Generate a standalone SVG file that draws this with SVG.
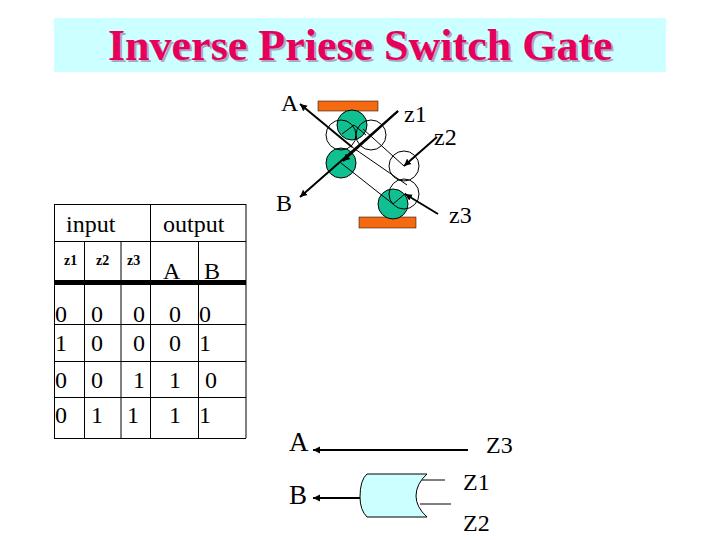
<svg xmlns="http://www.w3.org/2000/svg" width="720" height="540" viewBox="0 0 720 540">
<style>
text{font-family:"Liberation Serif","Times New Roman",serif;fill:#000}
.t{font-size:24px}
.b{font-size:27px}
.h{font-size:24px}
.s{font-size:14px;font-weight:bold}
.c{font-size:24px}
.ti{font-size:44px;font-weight:bold}
.thin{stroke:#000;stroke-width:1;fill:none}
.med{stroke:#000;stroke-width:2;fill:none}
.wc{fill:none;stroke:#000;stroke-width:1}
.gc{fill:#10c090;stroke:#000;stroke-width:1}
.or{fill:#f56a10;stroke:#000;stroke-width:.5}
</style>
<defs>
<marker id="a" markerUnits="userSpaceOnUse" markerWidth="9" markerHeight="8" refX="7" refY="4" orient="auto"><path d="M0 .5L7 4L0 7.500Z" fill="#000"/></marker>
</defs>
<rect width="720" height="540" fill="#fff"/>
<g id="title">
<rect x="54" y="18" width="612" height="54" fill="#ccffff"/>
<text class="ti" x="110" y="62" style="fill:#a8a8c0">Inverse Priese Switch Gate</text>
<text class="ti" x="108" y="60" style="fill:#e6005c">Inverse Priese Switch Gate</text>
</g>
<g id="table">
<path class="thin" d="M54 204.500H246M54 241.500H246M54 324.500H246M54 361.500H246M54 397.500H246M54 438.500H246M54.500 204V438M150.500 204V438M246 204V438M84.500 241V438M121 241V438M198.500 241V438"/>
<path stroke="#000" stroke-width="5" d="M54 282.500H246"/>
<text class="h" x="66" y="232">input</text>
<text class="h" x="163" y="232">output</text>
<text class="s" x="64" y="265">z1</text>
<text class="s" x="96" y="265">z2</text>
<text class="s" x="127" y="265">z3</text>
<text class="h" x="163" y="279">A</text>
<text class="h" x="204" y="279">B</text>
<g>
<text class="c" x="55" y="322">0</text><text class="c" x="91" y="322">0</text><text class="c" x="133" y="322">0</text><text class="c" x="169" y="322">0</text><text class="c" x="199" y="322">0</text>
<text class="c" x="55" y="351">1</text><text class="c" x="91" y="351">0</text><text class="c" x="133" y="351">0</text><text class="c" x="169" y="351">0</text><text class="c" x="199" y="351">1</text>
<text class="c" x="55" y="388">0</text><text class="c" x="91" y="388">0</text><text class="c" x="133" y="388">1</text><text class="c" x="169" y="388">1</text><text class="c" x="205" y="388">0</text>
<text class="c" x="55" y="423">0</text><text class="c" x="91" y="423">1</text><text class="c" x="127" y="423">1</text><text class="c" x="169" y="423">1</text><text class="c" x="199" y="423">1</text>
</g>
</g>
<g id="switch">
<rect class="or" x="318" y="101" width="60" height="10"/>
<rect class="or" x="359" y="217" width="57" height="11"/>
<circle class="gc" cx="352" cy="125" r="15"/>
<circle class="gc" cx="341" cy="163" r="15"/>
<circle class="gc" cx="393" cy="204" r="15"/>
<circle class="wc" cx="341" cy="135" r="15"/>
<circle class="wc" cx="371" cy="135" r="15"/>
<circle class="wc" cx="404" cy="166" r="15"/>
<circle class="wc" cx="404" cy="194" r="15"/>
</g>
<g id="connectors">
<path class="thin" d="M352 147L407 185M363 129L404 166M341 163L393 204M342 134L354 125L366 135M393 204L406 193"/>
<path class="med" marker-end="url(#a)" d="M352 147L300 104"/>
<path class="med" marker-end="url(#a)" d="M398 111L300 197"/>
<path class="med" marker-end="url(#a)" d="M398 111L343 161"/>
<path class="med" marker-end="url(#a)" d="M437 137L404 166"/>
<path class="med" marker-end="url(#a)" d="M438 214L405 194"/>
<path class="med" marker-end="url(#a)" d="M468 450H313"/>
<path class="med" marker-end="url(#a)" d="M360 498H313"/>
<path class="thin" d="M422 480H445M420 504H451"/>
</g>
<g id="gate">
<path d="M427 474H367Q360 480 360 497Q360 510 367 517H427Q416 507 416 496Q416 484 427 474Z" fill="#ccffff" stroke="#000" stroke-width="1"/>
</g>
<g id="labels">
<text class="t" x="281" y="111">A</text>
<text class="t" x="276" y="211">B</text>
<text class="t" x="404" y="122">z1</text>
<text class="t" x="434" y="145">z2</text>
<text class="t" x="449" y="223">z3</text>
<text class="b" x="289" y="451">A</text>
<text class="b" x="289" y="504">B</text>
<text class="t" x="486" y="453">Z3</text>
<text class="t" x="463" y="490">Z1</text>
<text class="t" x="463" y="531">Z2</text>
</g>
</svg>
